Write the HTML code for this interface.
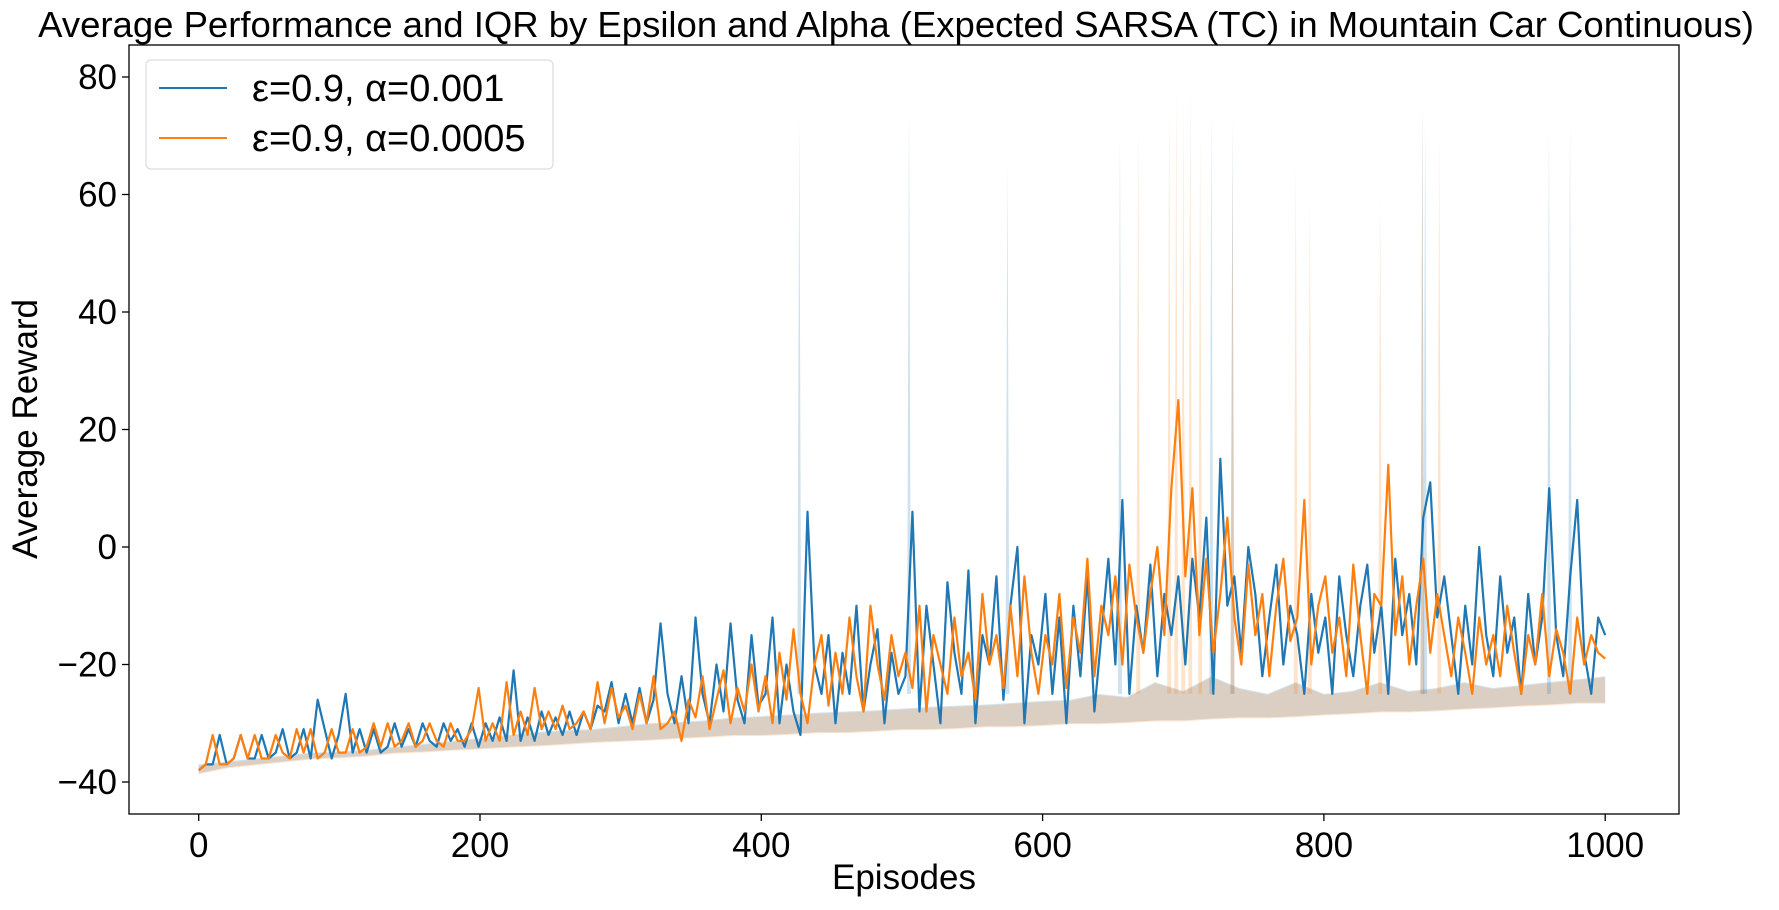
<!DOCTYPE html>
<html><head><meta charset="utf-8">
<style>
body{margin:0;background:#fff;}
svg text{font-family:"Liberation Sans","DejaVu Sans",sans-serif;}
</style></head>
<body>
<svg id="chart" width="1779" height="905" xmlns="http://www.w3.org/2000/svg">
<text x="896" y="37" font-size="36.5" text-anchor="middle">Average Performance and IQR by Epsilon and Alpha (Expected SARSA (TC) in Mountain Car Continuous)</text>
<g id="plot"></g>
<rect x="129" y="45" width="1550" height="769" fill="none" stroke="#000" stroke-width="1.3"/>
<g id="ticks"></g>
<text x="904" y="889" font-size="35" text-anchor="middle">Episodes</text>
<text transform="translate(37,429) rotate(-90)" font-size="35" text-anchor="middle">Average Reward</text>
<g>
<rect x="146" y="60" width="407" height="109" rx="5" fill="#fff" fill-opacity="0.85" stroke="#ddd" stroke-width="1.3"/>
<line x1="159" y1="88" x2="227" y2="88" stroke="#1f77b4" stroke-width="2"/>
<text x="252" y="101" font-size="38">ε=0.9, α=0.001</text>
<line x1="159" y1="138" x2="227" y2="138" stroke="#ff7f0e" stroke-width="2"/>
<text x="252" y="151" font-size="38">ε=0.9, α=0.0005</text>
</g>
</svg>
<script>
const xTicks=[0,200,400,600,800,1000];
const yTicks=[-40,-20,0,20,40,60,80];
const blueMean=[-38,-37,-37,-32,-37,-36,-32,-36,-36,-32,-36,-35,-31,-36,-35,-31,-36,-26,-31,-36,-32,
-25,-35,-31,-35,-31,-35,-34,-30,-34,-31,-34,-30,-33,-34,-30,-33,-31,-34,-30,-34,
-30,-33,-29,-33,-21,-33,-29,-33,-28,-32,-29,-32,-28,-32,-28,-31,-27,-28,-23,-30,
-25,-30,-24,-30,-26,-13,-25,-30,-22,-30,-12,-25,-30,-20,-28,-13,-26,-30,-15,-27,
-25,-12,-30,-20,-28,-32,6,-20,-25,-15,-30,-18,-25,-10,-28,-20,-14,-30,-18,-25,
-22,6,-28,-10,-20,-30,-6,-18,-25,-4,-30,-15,-20,-5,-26,-10,0,-30,-15,-20,
-8,-25,-12,-30,-10,-22,-5,-28,-15,-2,-20,8,-25,-10,-18,-3,-22,-8,-15,-5,
-20,-2,-12,5,-25,15,-10,-5,-18,0,-8,-22,-12,-3,-20,-10,-15,-25,-8,-18,
-12,-25,-5,-15,-22,-10,-3,-18,-10,-25,-2,-15,-8,-20,5,11,-12,-5,-15,-25,
-10,-20,0,-15,-22,-5,-18,-12,-25,-8,-20,-12,10,-15,-22,-5,8,-18,-25,-12,-15];
const orangeMean=[-38,-37,-32,-37,-37,-36,-32,-36,-32,-36,-36,-32,-35,-36,-31,-35,-31,-36,-35,-31,-35,
-35,-31,-35,-34,-30,-34,-30,-34,-33,-30,-34,-33,-30,-33,-34,-30,-33,-33,-31,-24,
-33,-30,-33,-23,-32,-28,-32,-24,-31,-28,-31,-27,-31,-30,-28,-31,-23,-30,-24,-29,
-27,-31,-25,-30,-22,-31,-30,-28,-33,-26,-29,-22,-31,-26,-21,-30,-24,-28,-20,-28,
-22,-30,-18,-26,-14,-25,-30,-20,-15,-27,-18,-25,-12,-22,-28,-10,-20,-26,-15,-22,
-18,-24,-10,-28,-15,-20,-25,-12,-22,-18,-26,-8,-20,-15,-24,-10,-22,-5,-18,-25,
-15,-20,-8,-24,-12,-18,-2,-22,-10,-15,-5,-20,-3,-12,-18,-8,0,-15,10,25,
-5,10,-15,-2,-18,-8,5,-12,-20,-3,-15,-8,-22,-10,-2,-16,-12,8,-20,-10,
-5,-18,-12,-22,-3,-15,-25,-8,-10,14,-15,-5,-20,-10,-2,-18,-8,-15,-22,-12,
-18,-25,-12,-20,-15,-22,-10,-18,-25,-15,-20,-8,-22,-14,-18,-25,-12,-20,-15,-18,-19];
const bandLow=[-38.5,-37.5,-37,-36.5,-36,-35.8,-35.5,-35,-34.8,-34.5,-34.3,-34,-33.8,-33.5,-33.2,-33,-32.8,-32.5,-32.3,-32,-32,-31.8,-31.5,-31.5,-31.3,-31,-31,-30.8,-30.5,-30.5,-30.3,-30,-30,-29.8,-29.5,-29.5,-29.2,-29,-29,-28.8,-28.5,-28.3,-28,-28,-27.8,-27.5,-27.3,-27,-26.8,-26.5,-26.5];
const bandHigh=[-37,-36.5,-36,-35.5,-35,-34.8,-34.5,-34,-33.5,-33,-32.5,-32,-31.5,-31.2,-31,-30.5,-30,-29.8,-29.5,-29,-28.8,-28.5,-28.2,-28,-27.8,-27.5,-27.2,-27,-26.8,-26.5,-26.2,-26,-25,-25.5,-23,-24.5,-22,-24,-25,-23,-25,-24.5,-23,-24.5,-24,-23,-24,-23.5,-23,-22.5,-22];
const blueSpikeX=[427,505,575,655,720,735,870,872,960,975];
const blueSpikeTop=[73,75,65,70,75,73,75,73,72,73];
const orangeSpikeX=[668,690,695,700,705,712,735,780,790,840,870,882];
const orangeSpikeTop=[72,75,78,75,79,70,65,65,60,60,75,70];
const SVGNS="http://www.w3.org/2000/svg";
const X=e=>198.7+e*1.4065;
const Y=v=>547-v*5.875;
const plot=document.getElementById('plot'), tk=document.getElementById('ticks');
function mk(tag,attrs,parent){const el=document.createElementNS(SVGNS,tag);for(const k in attrs)el.setAttribute(k,attrs[k]);parent.appendChild(el);return el;}
function bandPath(){let up=bandHigh.map((v,i)=>X(i*20)+','+Y(v));let lo=bandLow.map((v,i)=>X(i*20)+','+Y(v)).reverse();return 'M'+up.join('L')+'L'+lo.join('L')+'Z';}
let b1=mk('path',{d:bandPath(),fill:'#1f77b4','fill-opacity':0.2},plot);


let b2=mk('path',{d:bandPath(),fill:'#ff7f0e','fill-opacity':0.2,transform:'translate(0,1)'},plot);


function spikes(xs,tops,color,name){xs.forEach((e,i)=>{const base=Y(-25);const d='M'+(X(e)-2)+','+base+'L'+X(e)+','+Y(tops[i])+'L'+(X(e)+2)+','+base+'Z';const p=mk('path',{d:d,fill:color,'fill-opacity':0.22},plot);

});}
spikes(blueSpikeX,blueSpikeTop,'#1f77b4','iqr-spike-blue');
spikes(orangeSpikeX,orangeSpikeTop,'#ff7f0e','iqr-spike-orange');
function line(arr,color,name){const n=arr.length;const pts=arr.map((v,i)=>X(i*1000/(n-1))+','+Y(v));const p=mk('polyline',{points:pts.join(' '),fill:'none',stroke:color,'stroke-width':2.2,'stroke-linejoin':'round'},plot);

}
line(blueMean,'#1f77b4','mean-line-blue');
line(orangeMean,'#ff7f0e','mean-line-orange');
xTicks.forEach(t=>{const l=mk('line',{x1:X(t),x2:X(t),y1:814,y2:821,stroke:'#000','stroke-width':1.3},tk);


const tx=mk('text',{x:X(t),y:857,'font-size':35,'text-anchor':'middle'},tk);tx.textContent=t;

});
yTicks.forEach(t=>{const l=mk('line',{x1:122,x2:129,y1:Y(t),y2:Y(t),stroke:'#000','stroke-width':1.3},tk);


const tx=mk('text',{x:117,y:Y(t)+12,'font-size':35,'text-anchor':'end'},tk);tx.textContent=(t<0?'\u2212'+(-t):t);

});
</script>
</body></html>
